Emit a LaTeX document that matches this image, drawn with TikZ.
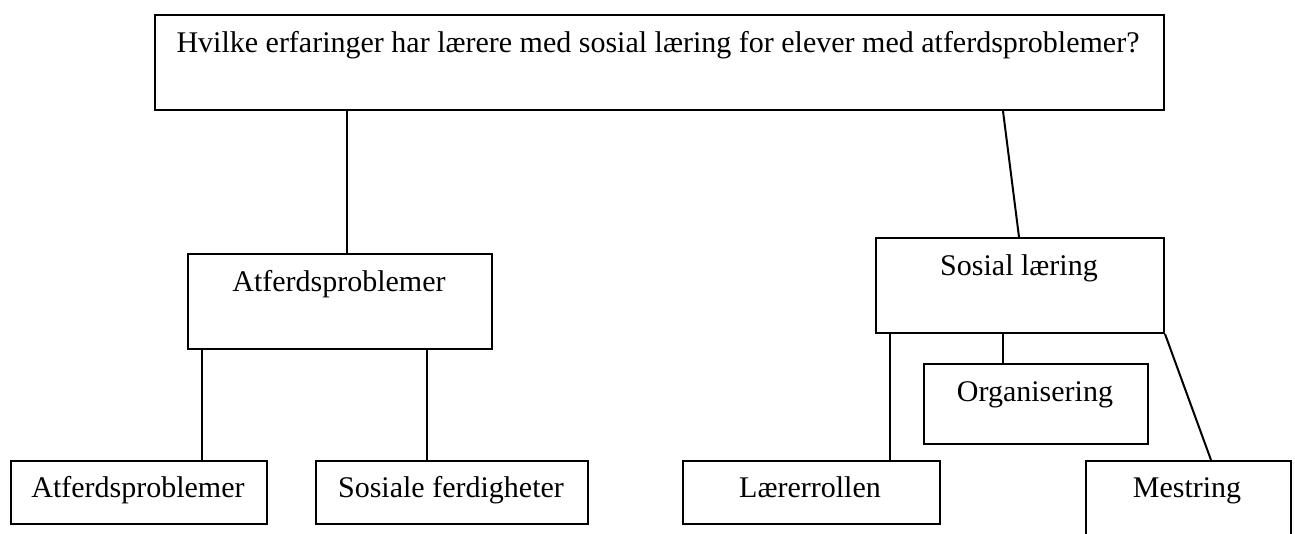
\documentclass[tikz,border=0pt]{standalone}
\usepackage{fontspec}
\setmainfont{Liberation Serif}
\begin{document}
\begin{tikzpicture}[x=0.4pt,y=-0.4pt,
  box/.style={draw, line width=0.8pt, inner sep=0pt, anchor=north west},
  txt/.style={anchor=base, inner sep=0pt, font=\fontsize{12}{14}\selectfont},
  conn/.style={line width=0.8pt}]
\useasboundingbox (0,0) rectangle (1295,534);
\clip (0,0) rectangle (1295,534);
% boxes
\node[box, minimum width=403.6pt, minimum height=38pt] (top) at (154,14) {};
\node[box, minimum width=121.6pt, minimum height=38pt] (atf) at (187,253) {};
\node[box, minimum width=115.2pt, minimum height=38pt] (sos) at (875,237) {};
\node[box, minimum width=89.6pt, minimum height=32pt] (org) at (923,363) {};
\node[box, minimum width=102.4pt, minimum height=25.2pt] (b1) at (10,460) {};
\node[box, minimum width=108.8pt, minimum height=25.2pt] (b2) at (315,460) {};
\node[box, minimum width=102.8pt, minimum height=25.2pt] (lar) at (682,460) {};
\node[box, minimum width=82pt, minimum height=34pt] (mes) at (1085,460) {};
% texts
\node[txt] (ttop) at (658,52) {Hvilke erfaringer har lærere med sosial læring for elever med atferdsproblemer?};
\node[txt] (tatf) at (339,291) {Atferdsproblemer};
\node[txt] (tsos) at (1019,275) {Sosial læring};
\node[txt] (torg) at (1035,401) {Organisering};
\node[txt] (tb1) at (138,497) {Atferdsproblemer};
\node[txt] (tb2) at (451,497) {Sosiale ferdigheter};
\node[txt] (tlar) at (810,497) {Lærerrollen};
\node[txt] (tmes) at (1187,497) {Mestring};
% connectors
\draw[conn] (top.south -| 347,0) -- (atf.north -| 347,0);
\draw[conn] (top.south -| 1003,0) -- (sos.north -| 1019,0);
\draw[conn] (atf.south -| 202,0) -- (b1.north -| 202,0);
\draw[conn] (atf.south -| 427,0) -- (b2.north -| 427,0);
\draw[conn] (sos.south -| 890,0) -- (lar.north -| 890,0);
\draw[conn] (sos.south -| 1003,0) -- (org.north -| 1003,0);
\draw[conn] (sos.south east) -- (mes.north -| 1211,0);
\end{tikzpicture}
\end{document}
